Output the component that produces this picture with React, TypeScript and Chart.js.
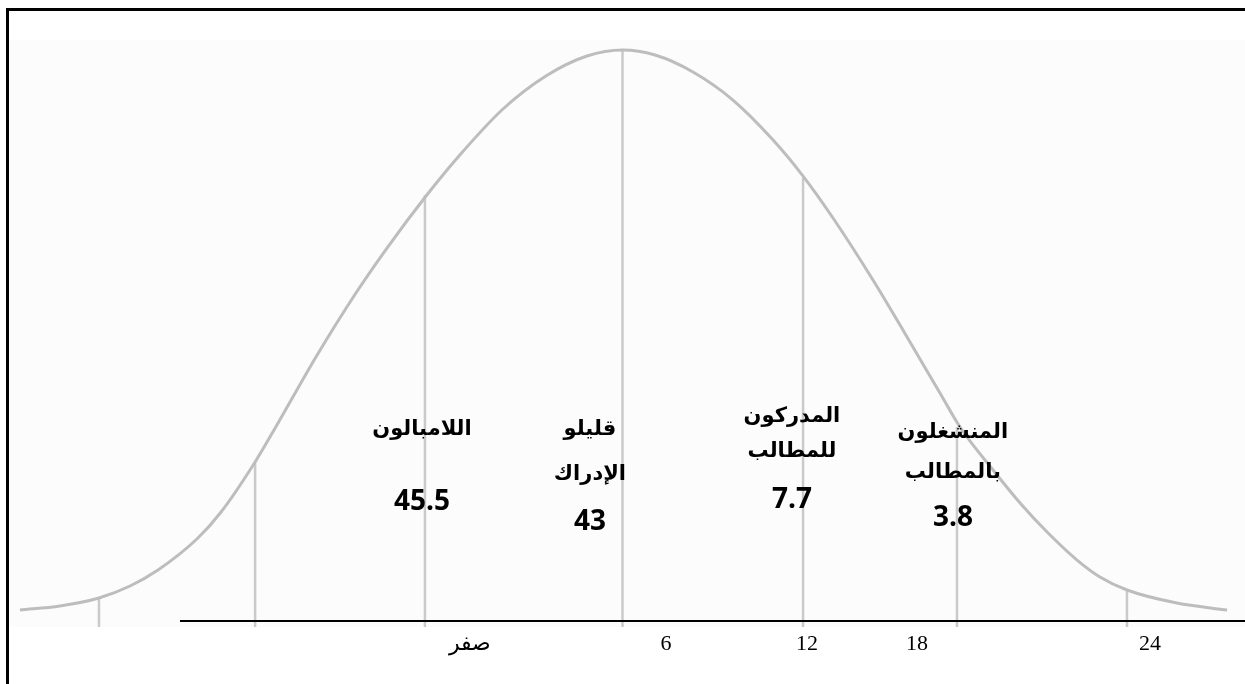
import { useEffect, useRef } from 'react';
import { Chart, registerables } from 'chart.js';

Chart.register(...registerables);

// Bell curve (x in spread units, y in % of peak height)
const curveX = [-3.257, -3.041, -2.83, -2.662, -2.511, -2.295, -2.17, -1.986, -1.868, -1.657, -1.441, -1.273, -1.062, -0.884, -0.646, -0.414, -0.192, 0, 0.176, 0.381, 0.597, 0.814, 0.976, 1.138, 1.354, 1.516, 1.716, 1.824, 2.003, 2.149, 2.295, 2.457, 2.581, 2.727, 2.997, 3.268];
const curveY = [1.93, 2.63, 4.03, 6.13, 8.93, 14.54, 19.09, 27.85, 34.33, 46.23, 57.44, 65.32, 74.43, 81.44, 89.67, 95.45, 98.95, 100, 99.12, 96.15, 91.24, 84.24, 77.93, 70.58, 59.72, 50.96, 39.93, 33.98, 26.44, 20.67, 15.59, 10.68, 7.71, 5.43, 3.15, 1.93];

// Vertical dividers under the curve
const dividerX = [-2.83, -1.986, -1.068, 0, 0.976, 1.808, 2.727];
const dividerTop = [4.03, 27.85, 74.6, 100, 77.6, 34.0, 5.43];
const dividerBottom = -1.05;

// Base axis line
const axisStart = -2.392;
const axisEnd = 3.365;

// Tick labels of the base line
const tickValues = [-0.824, 0.235, 0.997, 1.592, 2.851];
const tickLabels = ['صفر', '6', '12', '18', '24'];

// Group labels and percentages
const groupNames = [['اللامبالون'], ['قليلو', 'الإدراك'], ['المدركون', 'للمطالب'], ['المنشغلون', 'بالمطالب']];
const groupValues = [45.5, 43, 7.7, 3.8];

// Annotation anchors (data units)
const groupX = [-1.084, -0.176, 0.916, 1.786];
const groupNameY = [[33.45], [33.45, 25.57], [35.73, 29.6], [32.92, 25.92]];
const groupValueY = [20.84, 17.34, 21.19, 18.04];

const X_MIN = -3.365;
const X_MAX = 3.365;
const Y_MIN = -11.03;
const Y_MAX = 108.76;

export default function App() {
  const canvasRef = useRef<HTMLCanvasElement | null>(null);

  useEffect(() => {
    const canvas = canvasRef.current;
    if (!canvas) return;

    const dividerData: { x: number; y: number | null }[] = [];
    dividerX.forEach((x, i) => {
      dividerData.push({ x, y: dividerBottom });
      dividerData.push({ x, y: dividerTop[i] });
      dividerData.push({ x, y: null });
    });

    const backgroundPlugin = {
      id: 'paperBg',
      beforeDraw(chart: any) {
        const { ctx, width, height } = chart;
        ctx.save();
        ctx.fillStyle = '#ffffff';
        ctx.fillRect(0, 0, width, height);
        ctx.fillStyle = '#fcfcfc';
        ctx.fillRect(9, 40, width - 9, 587);
        ctx.restore();
      },
    };

    const labelPlugin = {
      id: 'groupLabels',
      afterDatasetsDraw(chart: any) {
        const { ctx, scales } = chart;
        const xs = scales.x;
        const ys = scales.y;
        ctx.save();
        ctx.textAlign = 'center';
        ctx.textBaseline = 'middle';
        ctx.fillStyle = '#000000';
        groupNames.forEach((lines, i) => {
          const px = xs.getPixelForValue(groupX[i]);
          ctx.font = 'bold 21px "DejaVu Sans", sans-serif';
          lines.forEach((t, j) => {
            ctx.fillText(t, px, ys.getPixelForValue(groupNameY[i][j]));
          });
          ctx.font = 'bold 28px "Open Sans", "DejaVu Sans", sans-serif';
          ctx.fillText(String(groupValues[i]), px, ys.getPixelForValue(groupValueY[i]));
        });
        ctx.restore();
      },
    };

    const chart = new Chart(canvas, {
      type: 'line',
      data: {
        datasets: [
          {
            label: 'axis',
            data: [
              { x: axisStart, y: 0 },
              { x: axisEnd, y: 0 },
            ],
            borderColor: '#000000',
            borderWidth: 2,
            pointRadius: 0,
            tension: 0,
            order: 0,
          },
          {
            label: 'curve',
            data: curveX.map((x, i) => ({ x, y: curveY[i] })),
            borderColor: '#bdbdbd',
            borderWidth: 3,
            pointRadius: 0,
            cubicInterpolationMode: 'monotone',
            order: 1,
          },
          {
            label: 'dividers',
            data: dividerData as any,
            borderColor: '#cacaca',
            borderWidth: 2.5,
            pointRadius: 0,
            spanGaps: false,
            tension: 0,
            order: 2,
          },
        ],
      },
      options: {
        animation: false,
        responsive: true,
        maintainAspectRatio: false,
        layout: { padding: 0 },
        plugins: {
          legend: { display: false },
          tooltip: { enabled: false },
          title: { display: false },
        },
        scales: {
          x: {
            type: 'linear',
            min: X_MIN,
            max: X_MAX,
            position: { y: 0 } as any,
            grid: { display: false, drawTicks: false },
            border: { display: false },
            afterBuildTicks: (scale: any) => {
              scale.ticks = tickValues.map((v) => ({ value: v }));
            },
            ticks: {
              autoSkip: false,
              maxRotation: 0,
              minRotation: 0,
              color: '#000000',
              padding: 10,
              font: { family: '"Liberation Serif", "Times New Roman", serif', size: 22 },
              callback: (_v: any, i: number) => tickLabels[i],
            },
          },
          y: {
            type: 'linear',
            min: Y_MIN,
            max: Y_MAX,
            display: false,
          },
        },
      },
      plugins: [backgroundPlugin, labelPlugin],
    });

    return () => {
      chart.destroy();
    };
  }, []);

  return (
    <div style={{ position: 'absolute', left: 0, top: 0, width: 1245, height: 684, overflow: 'hidden', background: '#fff' }}>
      <canvas ref={canvasRef} />
      <div
        style={{
          position: 'absolute',
          left: 6,
          top: 8,
          right: -10,
          bottom: -10,
          borderTop: '3px solid #000',
          borderLeft: '3px solid #000',
          pointerEvents: 'none',
        }}
      />
    </div>
  );
}
